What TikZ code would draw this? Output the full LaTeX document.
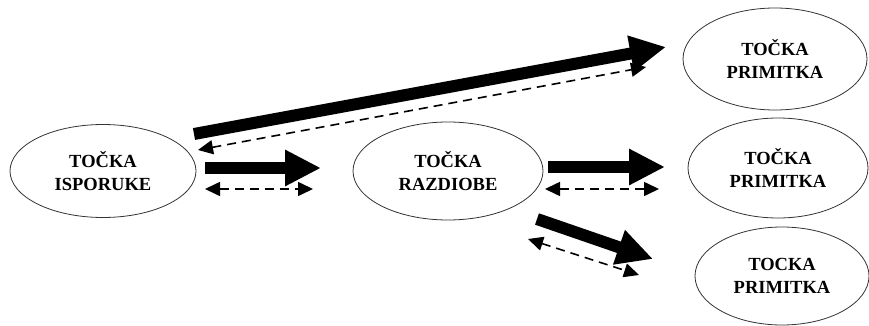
\documentclass[tikz,border=0pt]{standalone}
\usepackage{fontspec}
\setmainfont{Liberation Serif}
\usetikzlibrary{shapes.geometric,arrows.meta}

\begin{document}
\begin{tikzpicture}[x=1pt,y=-1pt,
    tocka/.style={ellipse,draw=black!80,line width=0.8pt,inner sep=0pt,align=center,font=\fontsize{18.5}{23}\selectfont\bfseries},
    fat/.style={line width=12pt,-{Triangle[length=36pt,width=34pt]}},
    back/.style={line width=1.6pt,dash pattern=on 9pt off 6pt,{Triangle[length=15pt,width=14pt]}-{Triangle[length=15pt,width=14pt]}}]
    \useasboundingbox (0,0) rectangle (869,326);
    \node[tocka,minimum width=186pt,minimum height=93pt] (isp) at (103,171) {TOČKA\\ISPORUKE};
    \node[tocka,minimum width=190pt,minimum height=98pt] (raz) at (448,171) {TOČKA\\RAZDIOBE};
    \node[tocka,minimum width=184pt,minimum height=102pt] (prim1) at (775,59) {TOČKA\\PRIMITKA};
    \node[tocka,minimum width=180pt,minimum height=100pt] (prim2) at (778,168) {TOČKA\\PRIMITKA};
    \node[tocka,minimum width=174pt,minimum height=98pt] (prim3) at (782,276) {TOCKA\\PRIMITKA};
    % isporuka -> primitak (direktno)
    \coordinate (f1a) at (194,134); \coordinate (f1b) at (666,47);
    \coordinate (d1a) at (198,150); \coordinate (d1b) at (646,67);
    \draw[fat] (f1a) -- (f1b);
    \draw[back] (d1a) -- (d1b);
    % isporuka -> razdioba
    \coordinate (f2a) at (205,168); \coordinate (f2b) at (321,168);
    \coordinate (d2a) at (205,189); \coordinate (d2b) at (313,189);
    \draw[fat] (f2a) -- (f2b);
    \draw[back] (d2a) -- (d2b);
    % razdioba -> primitak
    \coordinate (f3a) at (548,167); \coordinate (f3b) at (665,167);
    \coordinate (d3a) at (545,189); \coordinate (d3b) at (659,189);
    \draw[fat] (f3a) -- (f3b);
    \draw[back] (d3a) -- (d3b);
    \coordinate (f4a) at (537,219); \coordinate (f4b) at (653,259);
    \coordinate (d4a) at (528,239); \coordinate (d4b) at (639,275);
    \draw[fat] (f4a) -- (f4b);
    \draw[back] (d4a) -- (d4b);
\end{tikzpicture}
\end{document}
